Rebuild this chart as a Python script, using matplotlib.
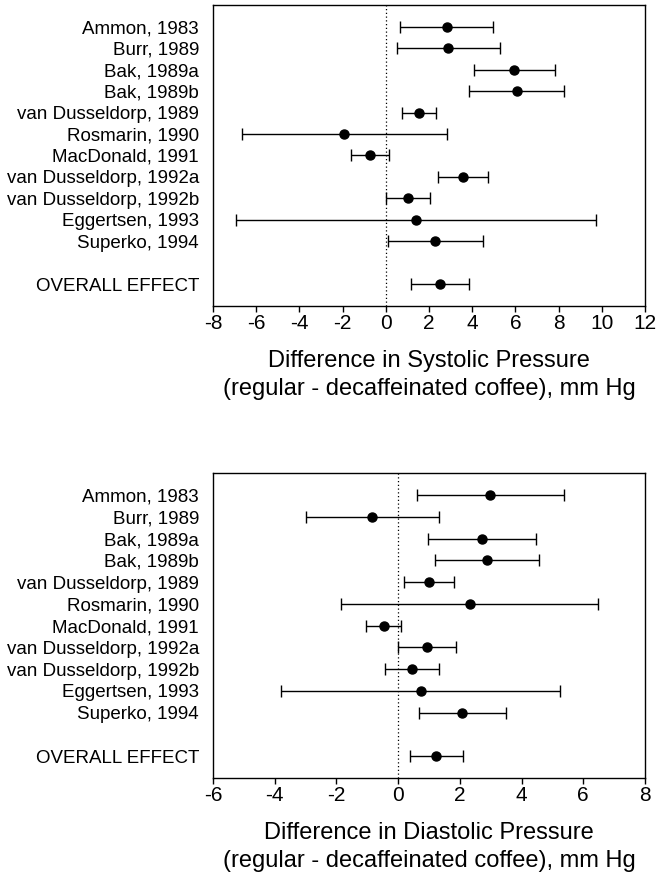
import matplotlib
matplotlib.use('Agg')
import matplotlib.pyplot as plt

plt.rcParams['font.family'] = ['Liberation Sans', 'DejaVu Sans']

# study labels, top to bottom
studies = ['Ammon, 1983', 'Burr, 1989', 'Bak, 1989a', 'Bak, 1989b',
           'van Dusseldorp, 1989', 'Rosmarin, 1990', 'MacDonald, 1991',
           'van Dusseldorp, 1992a', 'van Dusseldorp, 1992b',
           'Eggertsen, 1993', 'Superko, 1994', 'OVERALL EFFECT']

# systolic: estimate, lower, upper
sys_est = [2.82, 2.88, 5.94, 6.07, 1.53, -1.95, -0.74, 3.58, 1.01, 1.41, 2.28, 2.51]
sys_lo = [0.67, 0.51, 4.07, 3.85, 0.74, -6.67, -1.61, 2.43, 0.0, -6.93, 0.11, 1.19]
sys_hi = [4.97, 5.28, 7.82, 8.25, 2.32, 2.82, 0.17, 4.71, 2.03, 9.72, 4.49, 3.87]

# diastolic: estimate, lower, upper
dia_est = [2.97, -0.85, 2.71, 2.89, 0.99, 2.33, -0.45, 0.93, 0.44, 0.73, 2.06, 1.22]
dia_lo = [0.60, -3.00, 0.97, 1.20, 0.18, -1.84, -1.04, 0.0, -0.43, -3.79, 0.67, 0.40]
dia_hi = [5.39, 1.33, 4.46, 4.58, 1.80, 6.47, 0.10, 1.87, 1.32, 5.24, 3.48, 2.10]

# row positions (blank row before overall effect)
rows = list(range(11)) + [12]

xlabel_sys = 'Difference in Systolic Pressure\n(regular - decaffeinated coffee), mm Hg'
xlabel_dia = 'Difference in Diastolic Pressure\n(regular - decaffeinated coffee), mm Hg'


def forest(ax, est, lo, hi, xticks, xlabel):
    err = [[e - l for e, l in zip(est, lo)], [h - e for e, h in zip(est, hi)]]
    ax.axvline(0, color='black', lw=0.9, ls=(0, (1, 2)), zorder=1)
    ax.errorbar(est, rows, xerr=err, fmt='o', color='black', ms=6.5,
                ecolor='black', elinewidth=1.0, capsize=4, capthick=1.0,
                zorder=3)
    ax.set_xlim(xticks[0], xticks[-1])
    ax.set_ylim(13, -1)
    ax.set_xticks(xticks)
    ax.set_xticklabels([str(t) for t in xticks], fontsize=15)
    ax.set_yticks(rows)
    ax.set_yticklabels(studies, fontsize=13.5)
    ax.tick_params(axis='y', length=0, pad=10)
    ax.tick_params(axis='x', length=4, width=1, direction='out', pad=2)
    ax.set_xlabel(xlabel, fontsize=17, labelpad=12, linespacing=1.35)
    for s in ax.spines.values():
        s.set_linewidth(1.0)


fig = plt.figure(figsize=(6.57, 8.81), dpi=100)
ax1 = fig.add_axes([0.3242, 0.6527, 0.6575, 0.3416])
ax2 = fig.add_axes([0.3242, 0.1169, 0.6575, 0.3459])

forest(ax1, sys_est, sys_lo, sys_hi, list(range(-8, 13, 2)), xlabel_sys)
forest(ax2, dia_est, dia_lo, dia_hi, list(range(-6, 9, 2)), xlabel_dia)

fig.savefig('out.png', dpi=100)
